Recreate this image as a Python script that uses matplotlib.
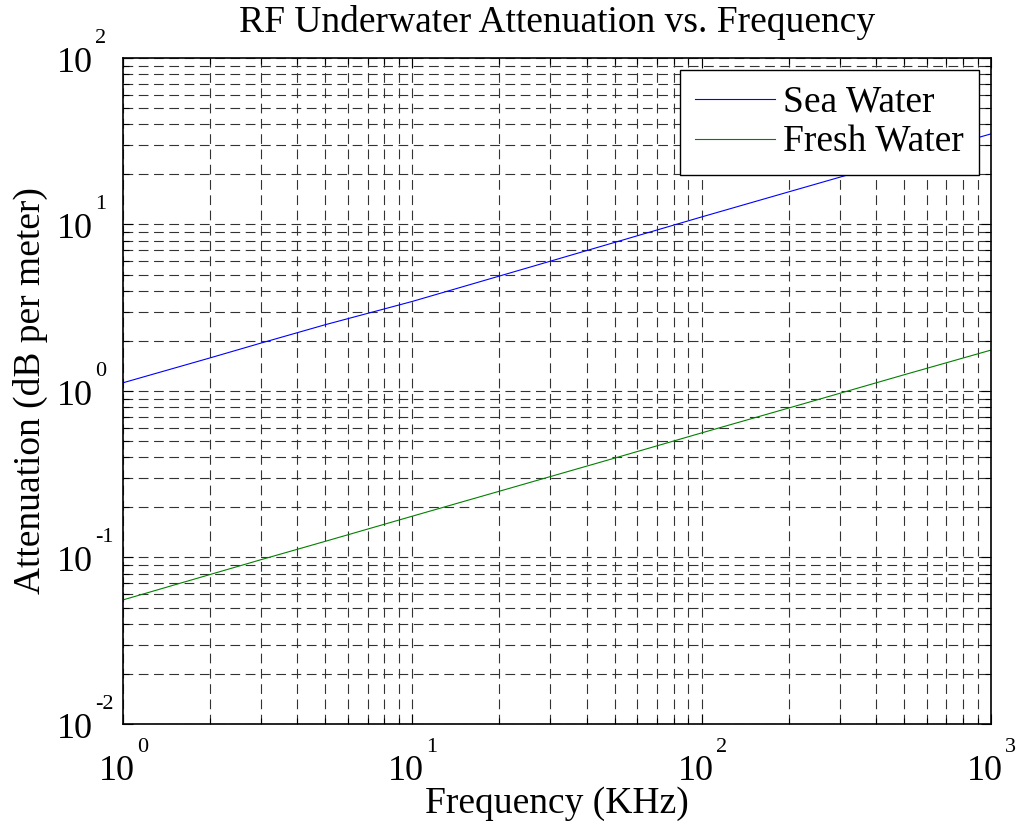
import numpy as np
import matplotlib
matplotlib.use('Agg')
import matplotlib.pyplot as plt
from matplotlib.ticker import LogLocator, NullFormatter

plt.rcParams['font.family'] = 'Liberation Serif'
plt.rcParams['lines.scale_dashes'] = False

# values (frequency in KHz, attenuation in dB/m)
freq = [1, 2, 3, 5, 10, 20, 50, 100, 200, 500, 1000]
sea_water = [1.12, 1.58, 1.94, 2.5, 3.45, 4.9, 7.8, 11.1, 15.7, 24.8, 35.0]
fresh_water = [0.0556, 0.079, 0.097, 0.125, 0.177, 0.25, 0.395, 0.56, 0.79, 1.25, 1.76]

x_decades = [0, 1, 2, 3]
y_decades = [-2, -1, 0, 1, 2]

fig = plt.figure(figsize=(10.19, 8.33), dpi=100)
ax = fig.add_axes([0.1207, 0.1309, 0.8518, 0.7995])

ax.loglog(freq, sea_water, color=(0, 0, 1), lw=0.8, label='Sea Water')
ax.loglog(freq, fresh_water, color=(0, 0.5, 0), lw=0.8, label='Fresh Water')

ax.set_xlim(1, 1000)
ax.set_ylim(1e-2, 1e2)

for axis in (ax.xaxis, ax.yaxis):
    axis.set_major_locator(LogLocator(base=10, numticks=10))
    axis.set_minor_locator(LogLocator(base=10, subs=np.arange(2, 10), numticks=10))
    axis.set_major_formatter(NullFormatter())
    axis.set_minor_formatter(NullFormatter())

ax.grid(True, which='both', color='#333333', lw=0.8, linestyle=(0, (7, 4)))
ax.tick_params(which='both', direction='in', top=True, right=True, width=0.8)
ax.tick_params(which='major', length=7)
ax.tick_params(which='minor', length=4)
for s in ax.spines.values():
    s.set_linewidth(1.2)

# MATLAB style tick labels: "10" with a raised small exponent
BIG, SMALL = 26, 16
for d in x_decades:
    ax.annotate('10', (10.0 ** d, 0), xycoords=('data', 'axes fraction'),
                xytext=(12, -56), textcoords='offset pixels',
                ha='right', va='baseline', fontsize=BIG)
    ax.annotate('%d' % d, (10.0 ** d, 0), xycoords=('data', 'axes fraction'),
                xytext=(14, -28), textcoords='offset pixels',
                ha='left', va='baseline', fontsize=SMALL)
for d in y_decades:
    ax.annotate('10', (0, 10.0 ** d), xycoords=('axes fraction', 'data'),
                xytext=(-30, -14), textcoords='offset pixels',
                ha='right', va='baseline', fontsize=BIG)
    ax.annotate('%d' % d, (0, 10.0 ** d), xycoords=('axes fraction', 'data'),
                xytext=(-28, 15), textcoords='offset pixels',
                ha='left', va='baseline', fontsize=SMALL)

ax.set_title('RF Underwater Attenuation vs. Frequency', fontsize=27, pad=18.5)
ax.set_xlabel('Frequency (KHz)', fontsize=27)
ax.xaxis.label.set_va('baseline')
ax.xaxis.set_label_coords(0.5, -0.134)
ax.set_ylabel('Attenuation (dB per meter)', fontsize=27)
ax.yaxis.label.set_va('baseline')
ax.yaxis.set_label_coords(-0.0956, 0.5)

leg = ax.legend(loc='upper right', fontsize=27, fancybox=False, framealpha=1,
                edgecolor='black', handlelength=2.13, handletextpad=0.22,
                borderaxespad=0.33, borderpad=0.4, labelspacing=0.15)
leg.get_frame().set_linewidth(1.0)

fig.savefig('out.png', dpi=100)
